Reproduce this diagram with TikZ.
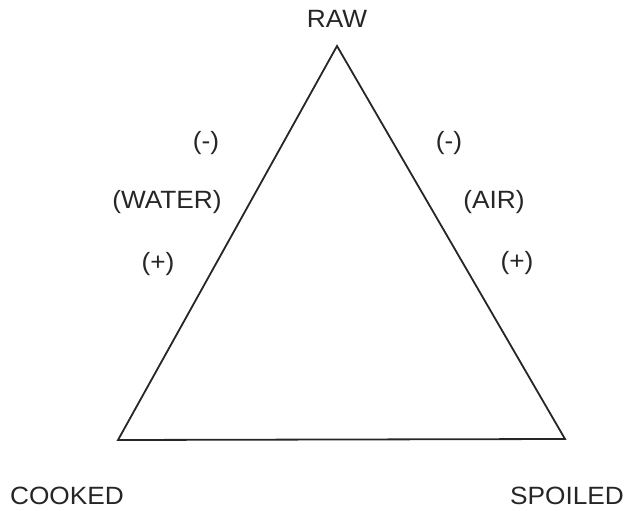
\documentclass[tikz,border=0pt]{standalone}
\usepackage{fontspec}
\setmainfont{Liberation Sans}
\begin{document}
\begin{tikzpicture}[x=1pt,y=-1pt,
  lbl/.style={font=\fontsize{25}{27}\selectfont, text=black!85, inner sep=0pt, xscale=1.05},
  edge/.style={draw=black!85, line width=1.8pt, line join=miter}]
\useasboundingbox (0,0) rectangle (627,511);
\coordinate (top) at (337,46);
\coordinate (bl) at (118,440);
\coordinate (br) at (565,439);
\draw[edge] (top) -- (bl) -- (br) -- cycle;
\node[lbl] (raw) at (337,19) {RAW};
\node[lbl] (cooked) at (67,496) {COOKED};
\node[lbl] (spoiled) at (567,496) {SPOILED};
\node[lbl] (wm) at (206,143) {(-)};
\node[lbl] (water) at (167,202) {(WATER)};
\node[lbl] (wp) at (158,264) {(+)};
\node[lbl] (am) at (449,143) {(-)};
\node[lbl] (air) at (494,202) {(AIR)};
\node[lbl] (ap) at (517,263) {(+)};
\end{tikzpicture}
\end{document}
